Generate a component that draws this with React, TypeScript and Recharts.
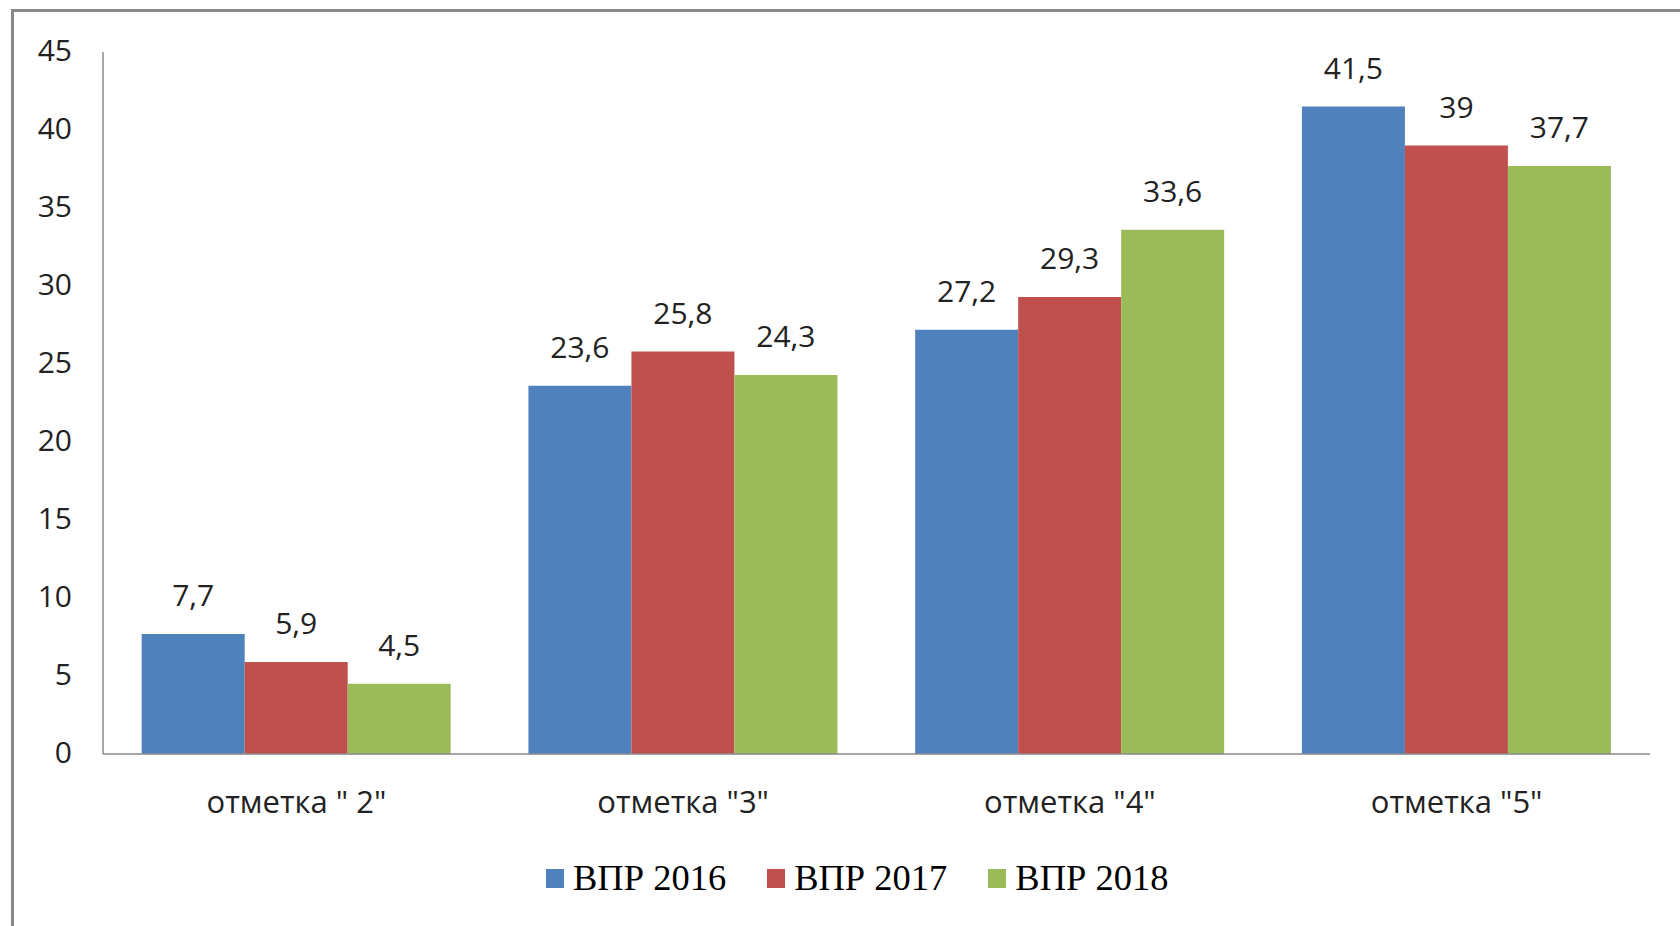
import { BarChart, Bar, XAxis, YAxis, LabelList } from "recharts";

const categories = ['отметка " 2"', 'отметка "3"', 'отметка "4"', 'отметка "5"'];
const vpr2016 = [7.7, 23.6, 27.2, 41.5];
const vpr2017 = [5.9, 25.8, 29.3, 39];
const vpr2018 = [4.5, 24.3, 33.6, 37.7];
const seriesNames = ["ВПР 2016", "ВПР 2017", "ВПР 2018"];
const seriesColors = ["#4F81BD", "#C0504D", "#9BBB59"];
const yTicks = [0, 5, 10, 15, 20, 25, 30, 35, 40, 45];

const data = categories.map((name, i) => ({
  name,
  v2016: vpr2016[i],
  v2017: vpr2017[i],
  v2018: vpr2018[i],
}));

const seriesKeys = ["v2016", "v2017", "v2018"];

const labelFont = { fontFamily: "'Open Sans', sans-serif", fontSize: 30, fill: "#222" };
const fmt = (v: any) => String(v).replace(".", ",");

export default function App() {
  return (
    <div
      style={{
        position: "absolute",
        left: 0,
        top: 0,
        width: 1680,
        height: 926,
        overflow: "hidden",
        background: "#fff",
      }}
    >
      <div
        style={{
          position: "absolute",
          left: 11,
          top: 9,
          width: 1720,
          height: 1000,
          border: "3px solid #888",
        }}
      />
      <div style={{ position: "absolute", left: 0, top: 0 }}>
        <BarChart
          width={1680}
          height={926}
          data={data}
          margin={{ top: 52, right: 30, bottom: 0, left: 0 }}
          barCategoryGap="10%"
          barGap={0}
        >
          <XAxis
            dataKey="name"
            height={172}
            tickLine={false}
            tickSize={0}
            tickMargin={37}
            axisLine={{ stroke: "#888", strokeWidth: 1.5 }}
            tick={{ ...labelFont, fontSize: 31 }}
            interval={0}
          />
          <YAxis
            width={103}
            domain={[0, 45]}
            ticks={yTicks}
            tickLine={false}
            tickSize={0}
            tickMargin={31}
            axisLine={{ stroke: "#888", strokeWidth: 1.5 }}
            tick={{ ...labelFont, dy: -2 }}
          />
          {seriesKeys.map((k, i) => (
            <Bar key={k} dataKey={k} name={seriesNames[i]} fill={seriesColors[i]} isAnimationActive={false}>
              <LabelList dataKey={k} position="top" offset={28} formatter={fmt} style={labelFont} />
            </Bar>
          ))}
        </BarChart>
      </div>
      <div
        style={{
          position: "absolute",
          left: 546,
          top: 860,
          height: 36,
          display: "flex",
          alignItems: "center",
          fontFamily: "'Liberation Serif', 'Times New Roman', serif",
          fontSize: 36.5,
          lineHeight: "36px",
          color: "#000",
          whiteSpace: "nowrap",
        }}
      >
        {seriesNames.map((n, i) => (
          <div key={n} style={{ display: "flex", alignItems: "center", marginRight: i < 2 ? 41 : 0 }}>
            <span style={{ width: 18, height: 19, background: seriesColors[i], marginRight: 9, display: "inline-block" }} />
            <span>{n}</span>
          </div>
        ))}
      </div>
    </div>
  );
}
